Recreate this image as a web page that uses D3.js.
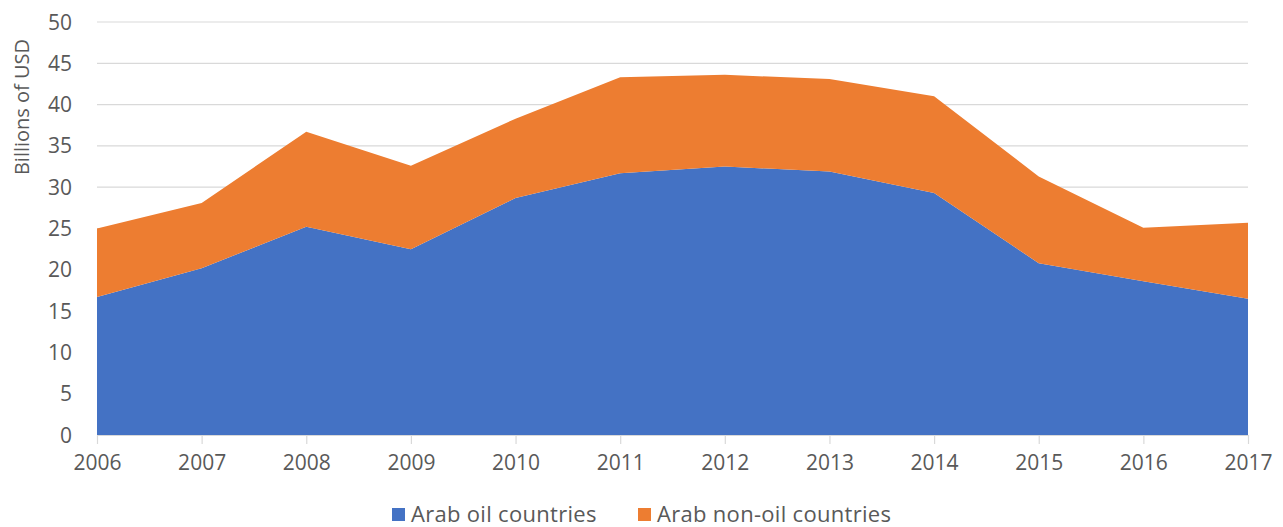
<!DOCTYPE html>
<html><head><meta charset="utf-8">
<script src="https://cdn.jsdelivr.net/npm/d3@7"></script>
<style>html,body{margin:0;padding:0;background:#fff;}</style>
</head><body>
<svg id="chart" width="1283" height="527"></svg>
<script>
const years = [2006,2007,2008,2009,2010,2011,2012,2013,2014,2015,2016,2017];
const oil =    [16.7,20.2,25.2,22.5,28.7,31.7,32.5,31.9,29.3,20.8,18.6,16.5];
const nonOil = [8.3, 7.9, 11.5,10.1,9.6, 11.6,11.1,11.2,11.7,10.5,6.5, 9.2];
const yTicks = [0,5,10,15,20,25,30,35,40,45,50];
const seriesNames = ["Arab oil countries","Arab non-oil countries"];
const colors = ["#4472C4","#ED7D31"];

const svg = d3.select("#chart");
const font = "'Open Sans', sans-serif";
const textColor = "#595959";
const x = d3.scalePoint().domain(years).range([97,1248]);
const y = d3.scaleLinear().domain([0,50]).range([435,22]);

// gridlines
svg.append("g").selectAll("line").data(yTicks).join("line")
  .attr("x1",97).attr("x2",1248)
  .attr("y1",d=>y(d)).attr("y2",d=>y(d))
  .attr("stroke","#d9d9d9").attr("stroke-width",1.2);

const table = years.map((yr,i)=>({year:yr, oil:oil[i], nonOil:nonOil[i]}));
const stack = d3.stack().keys(["oil","nonOil"])(table);
const area = d3.area().x(d=>x(d.data.year)).y0(d=>y(d[0])).y1(d=>y(d[1]));
svg.append("g").selectAll("path").data(stack).join("path")
  .attr("d",area).attr("fill",(d,i)=>colors[i]);

// y axis labels
svg.append("g").selectAll("text").data(yTicks).join("text")
  .attr("x",72).attr("y",d=>y(d)).attr("dy","0.36em")
  .attr("text-anchor","end").attr("font-family",font).attr("font-size",21)
  .attr("fill",textColor).text(d=>d);

// x axis
const xAxis = svg.append("g").attr("transform","translate(0,435)")
  .call(d3.axisBottom(x).tickSize(9).tickPadding(11).tickSizeOuter(0));
xAxis.select(".domain").attr("stroke","#d9d9d9");
xAxis.selectAll(".tick line").attr("stroke","#d9d9d9").attr("stroke-width",1.2);
xAxis.selectAll(".tick text").attr("font-family",font).attr("font-size",21).attr("fill",textColor);

// y title
svg.append("text").attr("transform","translate(29,107) rotate(-90)")
  .attr("text-anchor","middle").attr("font-family",font).attr("font-size",20)
  .attr("fill",textColor).text("Billions of USD");

// legend
const legendX = [392,638];
const lg = svg.append("g").selectAll("g").data(seriesNames).join("g")
  .attr("transform",(d,i)=>`translate(${legendX[i]},508)`);
lg.append("rect").attr("width",13).attr("height",13).attr("fill",(d,i)=>colors[i]);
lg.append("text").attr("x",19).attr("y",14).attr("font-family",font).attr("font-size",22)
  .attr("letter-spacing",0.3).attr("fill",textColor).text(d=>d);
</script>
</body></html>
